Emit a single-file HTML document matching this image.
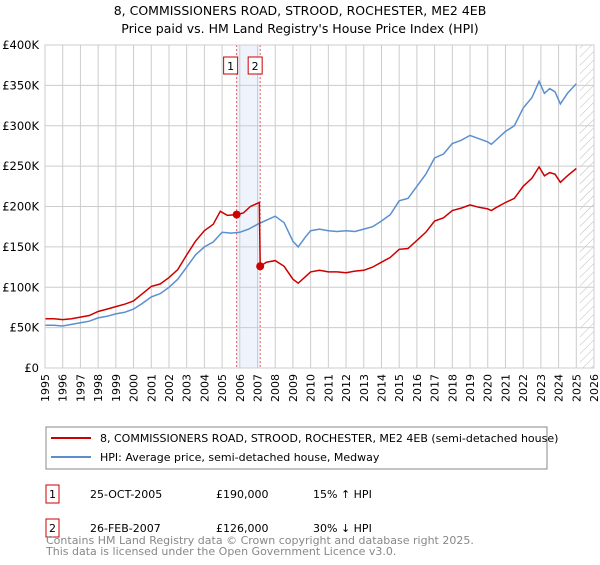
<!DOCTYPE html>
<html><head><meta charset="utf-8"><style>
body{margin:0;background:#fff;font-family:"Liberation Sans","DejaVu Sans",sans-serif;}
svg text{font-family:"DejaVu Sans","Liberation Sans",sans-serif;}
</style></head><body>
<svg width="600" height="560" viewBox="0 0 600 560" xmlns="http://www.w3.org/2000/svg">
<defs><pattern id="hatch" width="6" height="6" patternUnits="userSpaceOnUse" patternTransform="rotate(45)"><line x1="0" y1="0" x2="0" y2="6" stroke="#bbb" stroke-width="1"/></pattern></defs>
<text x="300" y="15" text-anchor="middle" font-size="12.5" fill="#000">8, COMMISSIONERS ROAD, STROOD, ROCHESTER, ME2 4EB</text>
<text x="300" y="33" text-anchor="middle" font-size="12.5" fill="#000">Price paid vs. HM Land Registry's House Price Index (HPI)</text>
<g id="grid"></g>
<g id="marks"></g>
<g id="axes"></g>
<rect x="46" y="427" width="501" height="42" fill="#fff" stroke="#888"/>
<line x1="51" y1="438" x2="91" y2="438" stroke="#cc0000" stroke-width="2"/>
<text x="100" y="442" font-size="11">8, COMMISSIONERS ROAD, STROOD, ROCHESTER, ME2 4EB (semi-detached house)</text>
<line x1="51" y1="457" x2="91" y2="457" stroke="#5b8fd0" stroke-width="2"/>
<text x="100" y="461" font-size="11">HPI: Average price, semi-detached house, Medway</text>
<g>
<rect x="46" y="485" width="13" height="18" fill="#fff" stroke="#cc0000"/>
<text x="52.5" y="498" font-size="11" text-anchor="middle">1</text>
<text x="90" y="498" font-size="11">25-OCT-2005</text>
<text x="216" y="498" font-size="11">£190,000</text>
<text x="313" y="498" font-size="11">15% ↑ HPI</text></g>
<g>
<rect x="46" y="519" width="13" height="18" fill="#fff" stroke="#cc0000"/>
<text x="52.5" y="532" font-size="11" text-anchor="middle">2</text>
<text x="90" y="532" font-size="11">26-FEB-2007</text>
<text x="216" y="532" font-size="11">£126,000</text>
<text x="313" y="532" font-size="11">30% ↓ HPI</text></g>
<text x="46" y="544" font-size="11" fill="#888">Contains HM Land Registry data © Crown copyright and database right 2025.</text>
<text x="46" y="555" font-size="11" fill="#888">This data is licensed under the Open Government Licence v3.0.</text>
</svg>
<script>
const yTicks=[0,50,100,150,200,250,300,350,400];
const yTickLabels=["£0","£50K","£100K","£150K","£200K","£250K","£300K","£350K","£400K"];
const years=[1995,1996,1997,1998,1999,2000,2001,2002,2003,2004,2005,2006,2007,2008,2009,2010,2011,2012,2013,2014,2015,2016,2017,2018,2019,2020,2021,2022,2023,2024,2025,2026];
const hpiT=[1995,1995.5,1996,1996.5,1997,1997.5,1998,1998.5,1999,1999.5,2000,2000.5,2001,2001.5,2002,2002.5,2003,2003.5,2004,2004.5,2005,2005.5,2006,2006.5,2007,2007.5,2008,2008.5,2009,2009.3,2009.7,2010,2010.5,2011,2011.5,2012,2012.5,2013,2013.5,2014,2014.5,2015,2015.5,2016,2016.5,2017,2017.5,2018,2018.5,2019,2019.5,2020,2020.2,2020.5,2021,2021.5,2022,2022.5,2022.9,2023.2,2023.5,2023.8,2024.1,2024.5,2025];
const hpiV=[53,53,52,54,56,58,62,64,67,69,73,80,88,92,100,110,125,140,150,156,168,167,168,172,178,183,188,180,157,150,162,170,172,170,169,170,169,172,175,182,190,207,210,225,240,260,265,278,282,288,284,280,277,283,293,300,322,335,355,340,346,342,327,340,352];
const priceT=[1995,1995.5,1996,1996.5,1997,1997.5,1998,1998.5,1999,1999.5,2000,2000.5,2001,2001.5,2002,2002.5,2003,2003.5,2004,2004.5,2004.9,2005.3,2005.82,2006.2,2006.6,2007.1,2007.15,2007.5,2008,2008.5,2009,2009.3,2009.7,2010,2010.5,2011,2011.5,2012,2012.5,2013,2013.5,2014,2014.5,2015,2015.5,2016,2016.5,2017,2017.5,2018,2018.5,2019,2019.5,2020,2020.2,2020.5,2021,2021.5,2022,2022.5,2022.9,2023.2,2023.5,2023.8,2024.1,2024.5,2025];
const priceV=[61,61,60,61,63,65,70,73,76,79,83,92,101,104,112,122,140,157,170,178,194,189,190,192,200,205,126,131,133,126,110,105,113,119,121,119,119,118,120,121,125,131,137,147,148,158,168,182,186,195,198,202,199,197,195,199,205,210,225,235,249,238,242,240,230,238,247];
const saleT=[2005.82,2007.15];
const saleV=[190,126];
const saleLabels=["1","2"];
const X0=45,X1=594,Y0=368,Y1=45;
const x=t=>X0+(t-1995)/(2026-1995)*(X1-X0);
const y=v=>Y0-v/400*(Y0-Y1);
const NS="http://www.w3.org/2000/svg";
function mk(tag,parent,attrs){const e=document.createElementNS(NS,tag);for(const k in attrs)e.setAttribute(k,attrs[k]);parent.appendChild(e);return e;}
const grid=document.getElementById('grid'),marks=document.getElementById('marks'),axes=document.getElementById('axes');
let band=mk('rect',grid,{x:x(saleT[0]),y:Y1,width:x(saleT[1])-x(saleT[0]),height:Y0-Y1,fill:'#eef3fc'});


let hatch=mk('rect',grid,{x:x(2025.2),y:Y1,width:X1-x(2025.2),height:Y0-Y1,fill:'url(#hatch)'});


years.forEach(yr=>{const l=mk('line',grid,{x1:x(yr),x2:x(yr),y1:Y1,y2:Y0,stroke:'#ccc','stroke-width':1});


const t=mk('text',axes,{x:0,y:0,'font-size':11,'text-anchor':'end',transform:`translate(${x(yr)+4},${Y0+6}) rotate(-90)`});
t.textContent=yr;

});
yTicks.forEach((v,i)=>{const l=mk('line',grid,{x1:X0,x2:X1,y1:y(v),y2:y(v),stroke:'#ccc','stroke-width':1});


const t=mk('text',axes,{x:X0-6,y:y(v)+4,'font-size':11.5,'text-anchor':'end'});
t.textContent=yTickLabels[i];

});
saleT.forEach((t,i)=>{const l=mk('line',marks,{x1:x(t),x2:x(t),y1:Y1,y2:Y0,stroke:'#e06060','stroke-dasharray':'2,2','stroke-width':1});

});
const pts=(T,V)=>T.map((t,i)=>x(t).toFixed(1)+','+y(V[i]).toFixed(1)).join(' ');
const hl=mk('polyline',marks,{points:pts(hpiT,hpiV),fill:'none',stroke:'#5b8fd0','stroke-width':1.5});


const pl=mk('polyline',marks,{points:pts(priceT,priceV),fill:'none',stroke:'#cc0000','stroke-width':1.5});


saleT.forEach((t,i)=>{const c=mk('circle',marks,{cx:x(t),cy:y(saleV[i]),r:4,fill:'#cc0000'});


const r=mk('rect',marks,{x:x(t)-11+(i?-1:0)+(i?0:-2),y:57,width:14,height:17,fill:'#fff',stroke:'#cc0000'});


const tx=mk('text',marks,{x:x(t)-4+(i?-1:-2),y:70,'font-size':11,'text-anchor':'middle'});
tx.textContent=saleLabels[i];

});
const fr=mk('rect',axes,{x:X0,y:Y1,width:X1-X0,height:Y0-Y1,fill:'none',stroke:'#ccc'});


</script>
</body></html>
